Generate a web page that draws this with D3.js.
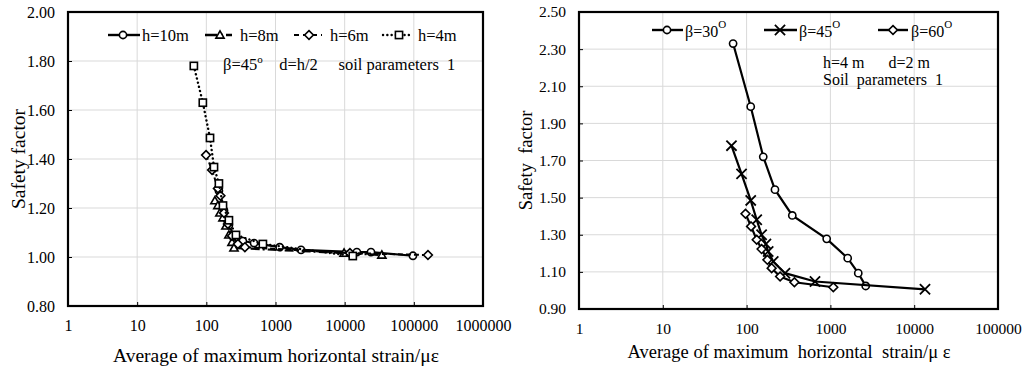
<!DOCTYPE html>
<html>
<head>
<meta charset="utf-8">
<script src="https://cdn.jsdelivr.net/npm/d3@7"></script>
<style>
  html, body { margin: 0; padding: 0; background: #fff; }
  svg, svg text { font-family: "Liberation Serif", "Times New Roman", Tinos, "DejaVu Serif", serif !important; }
</style>
</head>
<body>
<svg id="chart" width="1030" height="371"></svg>
<script>
// ---------- Left chart data (h series, beta = 45) ----------
const leftXTicks = [1, 10, 100, 1000, 10000, 100000, 1000000];
const leftYTicks = [0.8, 1.0, 1.2, 1.4, 1.6, 1.8, 2.0];
const leftSeriesNames = ["h=10m", "h=8m", "h=6m", "h=4m"];

const h10Strain = [152, 180, 212, 251, 337, 490, 1150, 2340, 15000, 24000, 97000];
const h10SF     = [1.27, 1.19, 1.13, 1.086, 1.065, 1.057, 1.04, 1.029, 1.02, 1.02, 1.005];

const h8Strain  = [133, 147, 157, 174, 192, 212, 235, 251, 9800, 34500];
const h8SF      = [1.23, 1.21, 1.18, 1.16, 1.127, 1.09, 1.06, 1.037, 1.016, 1.008];

const h6Strain  = [99, 121, 147, 160, 180, 205, 235, 286, 361, 11900, 160000];
const h6SF      = [1.416, 1.355, 1.28, 1.25, 1.18, 1.135, 1.086, 1.053, 1.04, 1.016, 1.008];

const h4Strain  = [66, 89, 113, 129, 152, 174, 212, 268, 657, 13100];
const h4SF      = [1.78, 1.63, 1.486, 1.367, 1.30, 1.21, 1.15, 1.09, 1.053, 1.004];

// ---------- Right chart data (beta series, h = 4 m) ----------
const rightXTicks = [1, 10, 100, 1000, 10000, 100000];
const rightYTicks = [0.9, 1.1, 1.3, 1.5, 1.7, 1.9, 2.1, 2.3, 2.5];
const rightSeriesNames = ["β=30", "β=45", "β=60"];

const b30Strain = [69, 112, 158, 218, 351, 903, 1608, 2150, 2640];
const b30SF     = [2.33, 1.99, 1.72, 1.543, 1.404, 1.278, 1.174, 1.093, 1.024];

const b45Strain = [66, 87, 112, 132, 151, 170, 181, 208, 287, 655, 13450];
const b45SF     = [1.78, 1.628, 1.485, 1.381, 1.30, 1.25, 1.21, 1.156, 1.093, 1.048, 1.006];

const b60Strain = [97, 113, 132, 151, 177, 199, 251, 372, 1083];
const b60SF     = [1.413, 1.345, 1.273, 1.223, 1.165, 1.12, 1.075, 1.044, 1.017];

const FONT = '"Liberation Serif", "Times New Roman", Tinos, "DejaVu Serif", serif';
const svg = d3.select("#chart").style("font-family", FONT);

function zip(xs, ys) { return xs.map((x, i) => ({ x: x, y: ys[i] })); }

function marker(g, type, cx, cy) {
  const s = 3.6;
  if (type === "circle") {
    g.append("circle").attr("cx", cx).attr("cy", cy).attr("r", s)
      .attr("fill", "#fff").attr("stroke", "#000").attr("stroke-width", 1.6);
  } else if (type === "triangle") {
    g.append("path").attr("d", `M${cx},${cy - s - 0.5}L${cx + s + 0.5},${cy + s - 0.5}L${cx - s - 0.5},${cy + s - 0.5}Z`)
      .attr("fill", "#fff").attr("stroke", "#000").attr("stroke-width", 1.6);
  } else if (type === "diamond") {
    g.append("path").attr("d", `M${cx},${cy - s - 0.8}L${cx + s + 0.8},${cy}L${cx},${cy + s + 0.8}L${cx - s - 0.8},${cy}Z`)
      .attr("fill", "#fff").attr("stroke", "#000").attr("stroke-width", 1.6);
  } else if (type === "square") {
    g.append("rect").attr("x", cx - s).attr("y", cy - s).attr("width", 2 * s).attr("height", 2 * s)
      .attr("fill", "#fff").attr("stroke", "#000").attr("stroke-width", 1.6);
  } else if (type === "cross") {
    const c = s + 1.5;
    g.append("path").attr("d", `M${cx - c},${cy - c}L${cx + c},${cy + c}M${cx - c},${cy + c}L${cx + c},${cy - c}`)
      .attr("fill", "none").attr("stroke", "#000").attr("stroke-width", 1.8);
  }
}

function txt(sel) { return sel.style("font-family", FONT).attr("fill", "#000"); }

function drawChart(cfg) {
  const x = d3.scaleLog().domain(cfg.xDomain).range([cfg.left, cfg.right]);
  const y = d3.scaleLinear().domain(cfg.yDomain).range([cfg.bottom, cfg.top]);
  const g = svg.append("g");

  // grid
  g.append("g").selectAll("line").data(cfg.xTicks.slice(1, -1)).join("line")
    .attr("x1", d => x(d)).attr("x2", d => x(d)).attr("y1", cfg.top).attr("y2", cfg.bottom)
    .attr("stroke", "#d9d9d9").attr("stroke-width", 1);
  g.append("g").selectAll("line").data(cfg.yTicks.slice(1, -1)).join("line")
    .attr("x1", cfg.left).attr("x2", cfg.right).attr("y1", d => y(d)).attr("y2", d => y(d))
    .attr("stroke", "#d9d9d9").attr("stroke-width", 1);

  // axes (inside ticks)
  const xAxis = d3.axisBottom(x).tickValues(cfg.xTicks).tickSize(-4).tickPadding(14)
    .tickFormat(d3.format("d"));
  const gx = g.append("g").attr("transform", `translate(0,${cfg.bottom})`).call(xAxis)
    .attr("font-family", null);
  gx.select(".domain").remove();
  gx.selectAll(".tick line").attr("stroke", "#000").attr("stroke-width", 1);
  txt(gx.selectAll("text")).attr("font-size", cfg.tickSize);

  const yAxis = d3.axisLeft(y).tickValues(cfg.yTicks).tickSize(-4).tickPadding(cfg.yPad)
    .tickFormat(d3.format(".2f"));
  const gy = g.append("g").attr("transform", `translate(${cfg.left},0)`).call(yAxis)
    .attr("font-family", null);
  gy.select(".domain").remove();
  gy.selectAll(".tick line").attr("stroke", "#000").attr("stroke-width", 1);
  txt(gy.selectAll("text")).attr("font-size", cfg.tickSize);

  // frame
  g.append("rect").attr("x", cfg.left).attr("y", cfg.top)
    .attr("width", cfg.right - cfg.left).attr("height", cfg.bottom - cfg.top)
    .attr("fill", "none").attr("stroke", "#000").attr("stroke-width", 2.2);

  // series
  const line = d3.line().x(d => x(d.x)).y(d => y(d.y));
  cfg.series.forEach(s => {
    const pts = zip(s.xs, s.ys);
    g.append("path").datum(pts).attr("d", line)
      .attr("fill", "none").attr("stroke", "#000").attr("stroke-width", s.width || 2)
      .attr("stroke-dasharray", s.dash || null).attr("stroke-linecap", s.cap || "butt");
    const mg = g.append("g");
    pts.forEach(p => marker(mg, s.marker, x(p.x), y(p.y)));
  });

  // titles
  txt(g.append("text")).attr("transform", `translate(${cfg.yTitleX},${(cfg.top + cfg.bottom) / 2}) rotate(-90)`)
    .attr("text-anchor", "middle").attr("dominant-baseline", "central")
    .attr("font-size", cfg.titleSize).style("white-space", "pre").text(cfg.yTitle);
  txt(g.append("text")).attr("x", cfg.xTitleX).attr("y", cfg.xTitleY)
    .attr("text-anchor", "middle").attr("font-size", cfg.titleSize)
    .style("white-space", "pre").text(cfg.xTitle);
  return { x, y, g };
}

// ---------------- Left chart ----------------
drawChart({
  xDomain: [1, 1000000], yDomain: [0.8, 2.0],
  left: 68, right: 483, top: 12, bottom: 306,
  xTicks: leftXTicks, yTicks: leftYTicks, yPad: 13, tickSize: 16, titleSize: 19.5,
  yTitle: "Safety factor", yTitleX: 18,
  xTitle: "Average of maximum horizontal strain/με", xTitleX: 276, xTitleY: 362,
  series: [
    { xs: h10Strain, ys: h10SF, marker: "circle", width: 2.2 },
    { xs: h8Strain, ys: h8SF, marker: "triangle", width: 2.2, dash: "9,3,2,3" },
    { xs: h6Strain, ys: h6SF, marker: "diamond", width: 2, dash: "5,3" },
    { xs: h4Strain, ys: h4SF, marker: "square", width: 2.4, dash: "0.1,4.2", cap: "round" }
  ]
});

// left legend
(function () {
  const g = svg.append("g");
  const ly = 35;
  const items = [
    { x1: 108, x2: 140, mx: 123, tx: 142, marker: "circle", dash: null, cap: "butt", w: 2.4 },
    { x1: 205, x2: 232, mx: 220, tx: 240, marker: "triangle", dash: "12,4,2,3", cap: "butt", w: 2.4 },
    { x1: 294, x2: 322, mx: 309, tx: 330, marker: "diamond", dash: "5,4", cap: "butt", w: 2.2 },
    { x1: 383, x2: 413, mx: 399, tx: 418, marker: "square", dash: "0.1,4.2", cap: "round", w: 2.4 }
  ];
  items.forEach((it, i) => {
    g.append("line").attr("x1", it.x1).attr("x2", it.x2).attr("y1", ly).attr("y2", ly)
      .attr("stroke", "#000").attr("stroke-width", it.w).attr("stroke-dasharray", it.dash)
      .attr("stroke-linecap", it.cap);
    marker(g, it.marker, it.mx, ly);
    txt(g.append("text")).attr("x", it.tx).attr("y", ly).attr("dominant-baseline", "central")
      .attr("font-size", 16.5).text(leftSeriesNames[i]);
  });
  const t = txt(g.append("text")).attr("x", 223).attr("y", 64).attr("dominant-baseline", "central")
    .attr("font-size", 16.5).style("white-space", "pre");
  t.append("tspan").text("β=45");
  t.append("tspan").attr("font-size", 11).attr("dy", -5).text("o");
  t.append("tspan").attr("dy", 5).text("    d=h/2     soil parameters  1");
})();

// ---------------- Right chart ----------------
drawChart({
  xDomain: [1, 100000], yDomain: [0.9, 2.5],
  left: 579, right: 998, top: 12, bottom: 309,
  xTicks: rightXTicks, yTicks: rightYTicks, yPad: 13, tickSize: 15.5, titleSize: 18.5,
  yTitle: "Safety  factor", yTitleX: 526,
  xTitle: "Average of maximum  horizontal  strain/μ ε", xTitleX: 789, xTitleY: 358,
  series: [
    { xs: b30Strain, ys: b30SF, marker: "circle", width: 2.2 },
    { xs: b45Strain, ys: b45SF, marker: "cross", width: 2.2 },
    { xs: b60Strain, ys: b60SF, marker: "diamond", width: 2.2 }
  ]
});

// right legend
(function () {
  const g = svg.append("g");
  const ly = 30;
  const items = [
    { x1: 652, x2: 683, mx: 667, tx: 685, marker: "circle" },
    { x1: 764, x2: 797, mx: 780, tx: 799, marker: "cross" },
    { x1: 878, x2: 908, mx: 893, tx: 911, marker: "diamond" }
  ];
  items.forEach((it, i) => {
    g.append("line").attr("x1", it.x1).attr("x2", it.x2).attr("y1", ly).attr("y2", ly)
      .attr("stroke", "#000").attr("stroke-width", 2.4);
    marker(g, it.marker, it.mx, ly);
    const t = txt(g.append("text")).attr("x", it.tx).attr("y", ly + 1).attr("dominant-baseline", "central")
      .attr("font-size", 16);
    t.append("tspan").text(rightSeriesNames[i]);
    t.append("tspan").attr("font-size", 11).attr("dy", -7).text("O");
  });
  txt(g.append("text")).attr("x", 823).attr("y", 62).attr("dominant-baseline", "central")
    .attr("font-size", 16).style("white-space", "pre").text("h=4 m      d=2 m");
  txt(g.append("text")).attr("x", 823).attr("y", 79).attr("dominant-baseline", "central")
    .attr("font-size", 16).style("white-space", "pre").text("Soil  parameters  1");
})();
</script>
</body>
</html>
